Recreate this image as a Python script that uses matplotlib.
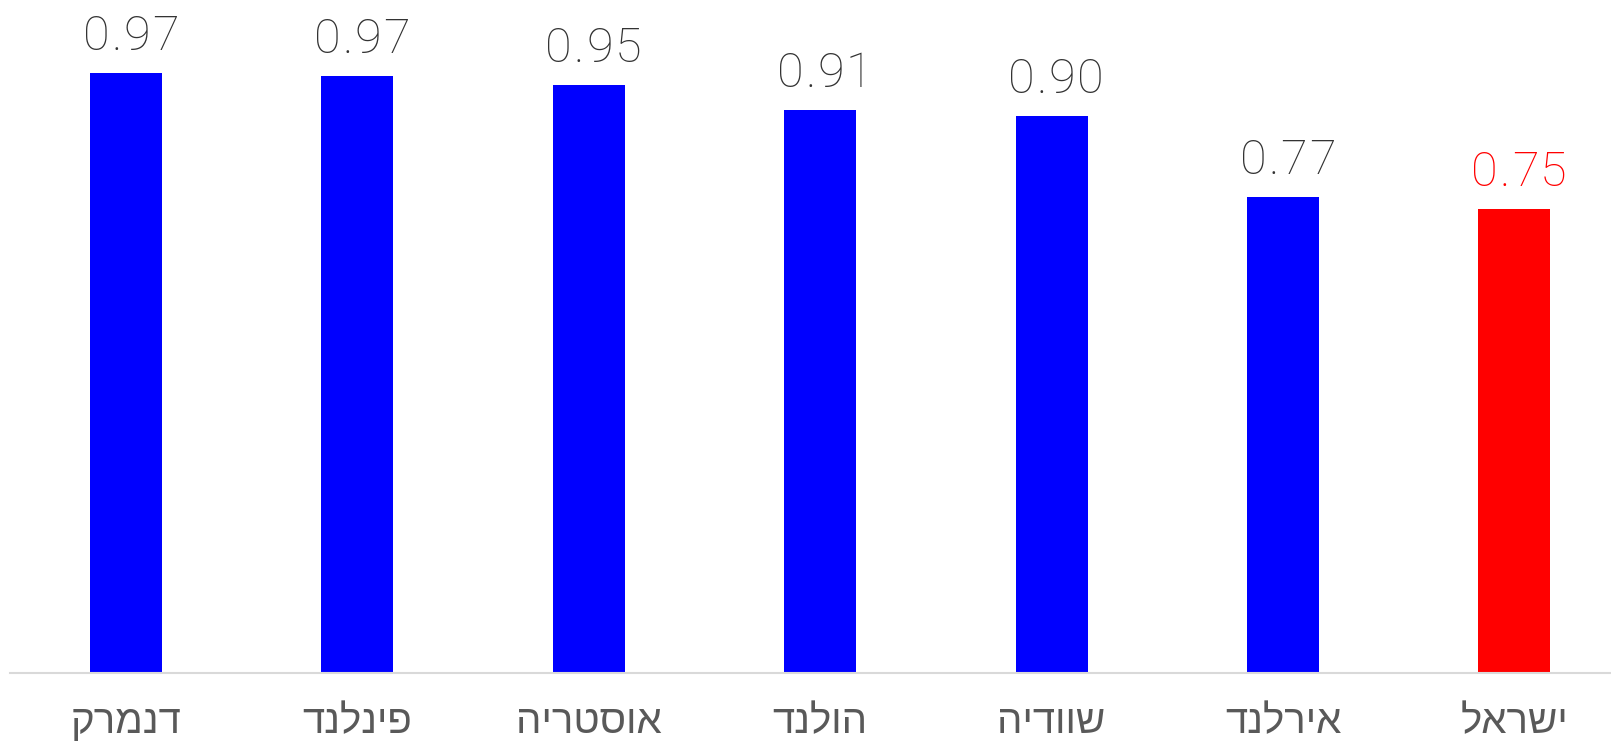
import matplotlib
matplotlib.use("Agg")
import matplotlib.pyplot as plt
from matplotlib.font_manager import findfont, FontProperties
from matplotlib import ft2font

countries = ["דנמרק", "פינלנד", "אוסטריה", "הולנד", "שוודיה", "אירלנד", "ישראל"]
values = [0.970, 0.965, 0.950, 0.910, 0.900, 0.770, 0.750]
value_labels = ["0.97", "0.97", "0.95", "0.91", "0.90", "0.77", "0.75"]
highlight = "ישראל"

plt.rcParams['font.family'] = ['DejaVu Sans']

DPI = 100
W, H = 1611, 742
fig = plt.figure(figsize=(W / DPI, H / DPI), dpi=DPI)
base_px = 672.7
left_px = 10.3
ax = fig.add_axes([left_px / W, 1 - base_px / H, 1 - left_px / W, base_px / H])

x = list(range(len(countries)))
colors = ["#FF0000" if c == highlight else "#0000FF" for c in countries]
ax.bar(x, values, width=0.311, color=colors, zorder=2)

px_per_unit = 618.3
ax.set_ylim(0, base_px / px_per_unit)
step = 231.4
ax.set_xlim(-0.5, -0.5 + (W - left_px) / step)

# value labels with slight letter spacing
LBL_SIZE = 35
TRACK_PX = 1.8
SHIFT_PX = 4.5
lbl_fp = FontProperties(family='Roboto', weight='light', size=LBL_SIZE)
ft = ft2font.FT2Font(findfont(lbl_fp))
ft.set_size(LBL_SIZE, DPI)
try:
    NOHINT = ft2font.LoadFlags.NO_HINTING
except AttributeError:
    NOHINT = ft2font.LOAD_NO_HINTING


def advance(ch):
    g = ft.load_char(ord(ch), flags=NOHINT)
    return g.linearHoriAdvance / 65536.0


for i, (v, lab, c) in enumerate(zip(values, value_labels, countries)):
    col = "#FF0000" if c == highlight else "#333333"
    advs = [advance(ch) for ch in lab]
    total = sum(advs) + TRACK_PX * (len(lab) - 1)
    pos = -total / 2 + SHIFT_PX
    for ch, a in zip(lab, advs):
        cx = pos + a / 2
        ax.annotate(ch, (i, v), xytext=(cx * 72 / DPI, 16.6), textcoords="offset points",
                    ha="center", va="baseline", fontproperties=lbl_fp, color=col)
        pos += a + TRACK_PX

ax.set_xticks(x)
ax.set_xticklabels([c[::-1] for c in countries], fontsize=29, color="#595959",
                   family=['Liberation Sans', 'DejaVu Sans'])
ax.tick_params(axis="x", length=0, pad=22)
ax.set_yticks([])
for s in ["top", "right", "left"]:
    ax.spines[s].set_visible(False)
ax.spines["bottom"].set_color("#D9D9D9")
ax.spines["bottom"].set_linewidth(1.5)

fig.savefig("out.png", dpi=DPI)
